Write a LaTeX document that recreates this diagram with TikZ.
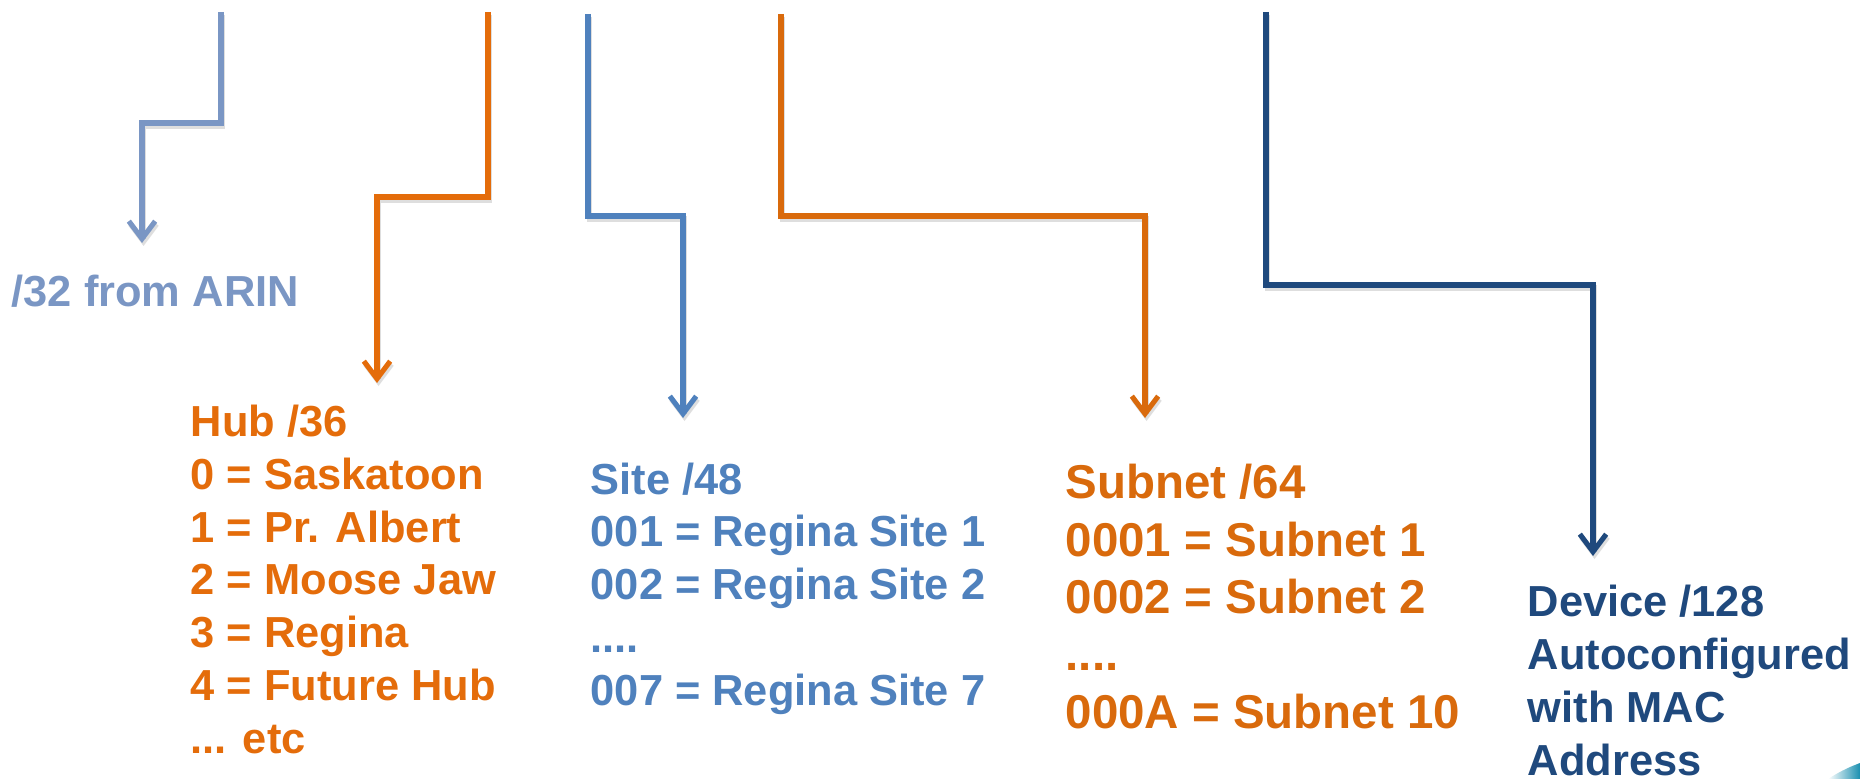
\documentclass[tikz,border=0pt]{standalone}
\usepackage{fontspec}
\setmainfont{Liberation Sans}
\usetikzlibrary{arrows.meta}
\definecolor{lblue}{HTML}{7A96C4}
\definecolor{horange}{HTML}{E46C0A}
\definecolor{sblue}{HTML}{4F81BD}
\definecolor{sorange}{HTML}{D96A0C}
\definecolor{dblue}{HTML}{1F497D}
\definecolor{tealdeco}{HTML}{1A8FB0}
\begin{document}
\begin{tikzpicture}[x=0.01cm,y=-0.01cm,
  conn/.style={line width=1.45pt, -{Straight Barb[length=5pt,width=7.5pt]}, line join=miter},
  shadowline/.style={conn, draw=black, opacity=0.13, transform canvas={shift={(1.5,3)}}},
  lbl/.style={anchor=base west, inner sep=0pt, align=left, font=\bfseries\fontsize{12.35}{15}\selectfont},
  biglbl/.style={lbl, font=\bfseries\fontsize{13.5}{16.3}\selectfont}]
\useasboundingbox (0,0) rectangle (1860,779);

% decoration in the bottom right corner
\shade[left color=white, right color=tealdeco] (1828,779) .. controls (1842,770) and (1852,766) .. (1860,763) -- (1860,779) -- cycle;

% text blocks (placed at the baseline of their last line)
\node[lbl, text=lblue] (arin) at (11,307) {/32 from ARIN};
\node[lbl, text=horange] (hub) at (190,753) {Hub /36\\0 = Saskatoon\\1 = Pr. Albert\\2 = Moose Jaw\\3 = Regina\\4 = Future Hub\\... etc};
\node[lbl, text=sblue] (site) at (590,705) {Site /48\\001 = Regina Site 1\\002 = Regina Site 2\\....\\007 = Regina Site 7};
\node[biglbl, text=sorange] (subnet) at (1065,728) {Subnet /64\\0001 = Subnet 1\\0002 = Subnet 2\\....\\000A = Subnet 10};
\node[lbl, text=dblue] (device) at (1527,775) {Device /128\\Autoconfigured\\with MAC\\Address};

% connector ends
\coordinate (s1) at (221,12);  \coordinate (t1) at (142,243);
\coordinate (s2) at (488,12);  \coordinate (t2) at (377,383);
\coordinate (s3) at (588,14);  \coordinate (t3) at (683,418);
\coordinate (s4) at (781,14);  \coordinate (t4) at (1145,418);
\coordinate (s5) at (1266,12); \coordinate (t5) at (1593,556);

% shadows
\draw[shadowline] (s1) -- ++(0,111) -| (t1);
\draw[shadowline] (s2) -- ++(0,185) -| (t2);
\draw[shadowline] (s3) -- ++(0,202) -| (t3);
\draw[shadowline] (s4) -- ++(0,202) -| (t4);
\draw[shadowline] (s5) -- ++(0,273) -| (t5);

% connectors
\draw[conn, draw=lblue] (s1) -- ++(0,111) -| (t1);
\draw[conn, draw=horange] (s2) -- ++(0,185) -| (t2);
\draw[conn, draw=sblue] (s3) -- ++(0,202) -| (t3);
\draw[conn, draw=sorange] (s4) -- ++(0,202) -| (t4);
\draw[conn, draw=dblue] (s5) -- ++(0,273) -| (t5);
\end{tikzpicture}
\end{document}
